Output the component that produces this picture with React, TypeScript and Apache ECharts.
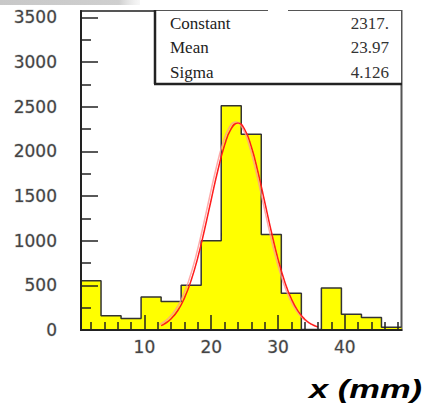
import React, { useEffect, useRef } from "react";
import * as echarts from "echarts";

// Histogram bins (x in mm), width 3
const binEdges = [0.5, 3.5, 6.5, 9.5, 12.5, 15.5, 18.5, 21.5, 24.5, 27.5, 30.5, 33.5, 36.5, 39.5, 42.5, 45.5, 48.5];
const binCounts = [550, 160, 130, 370, 320, 500, 1000, 2510, 2190, 1070, 410, 5, 470, 175, 140, 30];

// Fitted gaussian curve points (Constant 2317, Mean 23.97, Sigma 4.126)
const fitX = [12.5, 13, 14, 15, 16, 17, 18, 19, 20, 21, 22, 23, 24, 25, 26, 27, 28, 29, 30, 31, 32, 33, 34, 35, 36];
const fitY = [49, 68, 125, 218, 359, 556, 813, 1122, 1458, 1788, 2067, 2254, 2317, 2246, 2053, 1770, 1438, 1102, 796, 543, 349, 211, 121, 65, 33];

const statNames = ["Constant", "Mean", "Sigma"];
const statValues = ["2317.", "23.97", "4.126"];

const xMajor = [10, 20, 30, 40];
const xMinor = [2, 4, 6, 8, 12, 14, 16, 18, 22, 24, 26, 28, 32, 34, 36, 38, 42, 44, 46, 48];
const yMajor = [0, 500, 1000, 1500, 2000, 2500, 3000, 3500];
const yMinor = [250, 750, 1250, 1750, 2250, 2750, 3250];

const X_MIN = 0.5;
const X_MAX = 48.5;
const Y_MIN = 0;
const Y_MAX = 3570;

export default function App() {
  const ref = useRef<HTMLDivElement>(null);

  useEffect(() => {
    if (!ref.current) return;
    const chart = echarts.init(ref.current, null, { renderer: "svg" });

    const histData = binEdges.map((e, i) => [e, binCounts[Math.min(i, binCounts.length - 1)]]);
    const fitData = fitX.map((x, i) => [x, fitY[i]]);

    const gridRect = { left: 81, right: 25.5, top: 11, bottom: 80 };
    const tickColor = "#222";

    const labelStyle = {
      fontFamily: "DejaVu Sans",
      fontSize: 17,
      color: "#444",
      textBorderColor: "rgba(190,190,190,0.7)",
      textBorderWidth: 1,
      formatter: (v: number) => String(v),
    };

    chart.setOption({
      animation: false,
      backgroundColor: "#fff",
      grid: [
        { ...gridRect, show: true, borderColor: "#555", borderWidth: 2, backgroundColor: "transparent", z: 0 },
        { ...gridRect, show: false },
      ],
      xAxis: [
        {
          type: "value",
          gridIndex: 0,
          min: X_MIN,
          max: X_MAX,
          z: 10,
          splitLine: { show: false },
          axisLine: { show: true, onZero: false, lineStyle: { color: "#222", width: 2 } },
          axisTick: { show: true, inside: true, length: 15, customValues: xMajor, lineStyle: { color: tickColor, width: 1.5 } },
          axisLabel: { show: true, margin: 8, customValues: xMajor, ...labelStyle },
        },
        {
          type: "value",
          gridIndex: 1,
          min: X_MIN,
          max: X_MAX,
          z: 10,
          splitLine: { show: false },
          axisLine: { show: false },
          axisTick: { show: true, inside: true, length: 8, customValues: xMinor, lineStyle: { color: tickColor, width: 1.5 } },
          axisLabel: { show: false },
        },
      ],
      yAxis: [
        {
          type: "value",
          gridIndex: 0,
          min: Y_MIN,
          max: Y_MAX,
          z: 10,
          splitLine: { show: false },
          axisLine: { show: true, onZero: false, lineStyle: { color: "#222", width: 2 } },
          axisTick: { show: true, inside: true, length: 17, customValues: yMajor, lineStyle: { color: tickColor, width: 1.5 } },
          axisLabel: { show: true, margin: 24, customValues: yMajor, ...labelStyle },
        },
        {
          type: "value",
          gridIndex: 1,
          min: Y_MIN,
          max: Y_MAX,
          z: 10,
          splitLine: { show: false },
          axisLine: { show: false },
          axisTick: { show: true, inside: true, length: 10, customValues: yMinor, lineStyle: { color: tickColor, width: 1.5 } },
          axisLabel: { show: false },
        },
      ],
      series: [
        {
          type: "line",
          xAxisIndex: 0,
          yAxisIndex: 0,
          step: "end",
          data: histData,
          symbol: "none",
          z: 2,
          lineStyle: { color: "#333", width: 1.5 },
          areaStyle: { color: "#ffff00", opacity: 1 },
        },
        {
          type: "line",
          xAxisIndex: 0,
          yAxisIndex: 0,
          data: fitData,
          smooth: true,
          symbol: "none",
          z: 3,
          lineStyle: {
            color: "#ff1a1a",
            width: 1.5,
            shadowColor: "rgba(255,150,150,0.8)",
            shadowOffsetX: -2,
            shadowOffsetY: -1,
            shadowBlur: 0,
          },
        },
      ],
      graphic: [
        {
          type: "rect",
          z: 100,
          shape: { x: 0, y: 0, width: 140, height: 5 },
          style: {
            fill: new echarts.graphic.LinearGradient(0, 0, 1, 0, [
              { offset: 0, color: "#c8c8c8" },
              { offset: 0.85, color: "#cfcfcf" },
              { offset: 1, color: "rgba(230,230,230,0.3)" },
            ]),
          },
        },
        {
          type: "rect",
          z: 100,
          shape: { x: 155, y: 11, width: 246, height: 73 },
          style: { fill: "#fff" },
        },
        {
          type: "line",
          z: 101,
          shape: { x1: 155, y1: 10, x2: 155, y2: 84 },
          style: { stroke: "#222", lineWidth: 2.5 },
        },
        {
          type: "line",
          z: 101,
          shape: { x1: 154, y1: 84, x2: 402, y2: 84 },
          style: { stroke: "#222", lineWidth: 2.5 },
        },
        {
          type: "rect",
          z: 102,
          shape: { x: 268, y: 8, width: 20, height: 5 },
          style: { fill: "#fff" },
        },
        ...statNames.map((name, i) => ({
          type: "text",
          z: 103,
          x: 170,
          y: 23 + i * 24.5,
          style: {
            text: name,
            font: '17px "Liberation Serif"',
            fill: "#222",
            align: "left",
            verticalAlign: "middle",
          },
        })),
        ...statValues.map((val, i) => ({
          type: "text",
          z: 103,
          x: 389,
          y: 23 + i * 24.5,
          style: {
            text: val,
            font: '17px "Liberation Serif"',
            fill: "#333",
            align: "right",
            verticalAlign: "middle",
          },
        })),
        {
          type: "text",
          z: 103,
          x: 309,
          y: 389,
          scaleX: 1.38,
          style: {
            text: "x (mm)",
            font: 'italic bold 25px "Liberation Sans"',
            fill: "#000",
            align: "left",
            verticalAlign: "middle",
          },
        },
      ],
    });

    return () => chart.dispose();
  }, []);

  return (
    <div
      ref={ref}
      style={{ position: "fixed", left: 0, top: 0, width: 427, height: 410, background: "#fff" }}
    />
  );
}
